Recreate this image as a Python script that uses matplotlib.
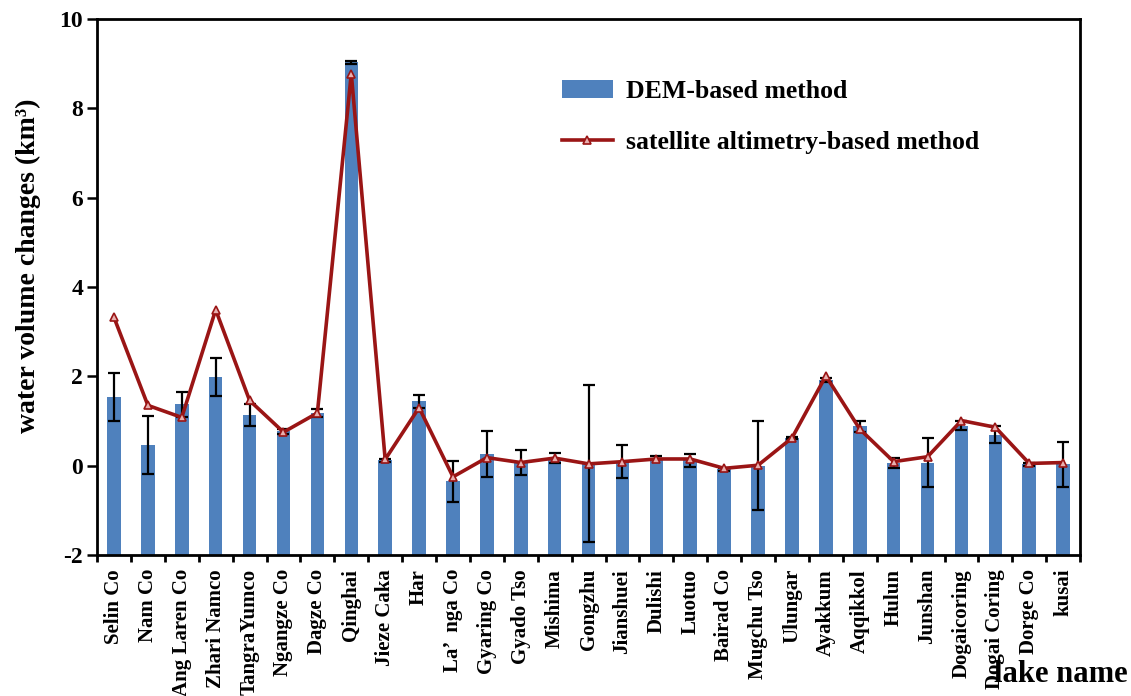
import numpy as np
import matplotlib
matplotlib.use('Agg')
import matplotlib.pyplot as plt

# ====== data ======
lakes = ['Selin Co', 'Nam Co', 'Ang Laren Co', 'Zhari Namco', 'TangraYumco',
         'Ngangze Co', 'Dagze Co', 'Qinghai', 'Jieze Caka', 'Har',
         'La\u2019  nga Co', 'Gyaring Co', 'Gyado Tso', 'Mishima', 'Gongzhu',
         'Jianshuei', 'Dulishi', 'Luotuo', 'Bairad Co', 'Mugchu Tso',
         'Ulungar', 'Ayakkum', 'Aqqikkol', 'Hulun', 'Junshan',
         'Dogaicoring', 'Dogai Coring', 'Dorge Co', 'kusai']

dem = [1.53, 0.47, 1.37, 1.98, 1.14, 0.77, 1.18, 9.03, 0.12, 1.44,
       -0.35, 0.26, 0.07, 0.18, 0.05, 0.09, 0.18, 0.12, -0.08, 0.0,
       0.62, 1.92, 0.88, 0.06, 0.07, 0.89, 0.69, 0.03, 0.03]

dem_err = [0.54, 0.65, 0.29, 0.43, 0.25, 0.05, 0.10, 0.04, 0.03, 0.14,
           0.46, 0.52, 0.29, 0.11, 1.75, 0.37, 0.03, 0.15, 0.03, 1.0,
           0.03, 0.05, 0.13, 0.11, 0.55, 0.10, 0.19, 0.03, 0.50]

alt = [3.32, 1.35, 1.08, 3.49, 1.46, 0.75, 1.18, 8.78, 0.14, 1.30,
       -0.25, 0.18, 0.07, 0.17, 0.04, 0.09, 0.15, 0.15, -0.06, 0.01,
       0.62, 2.01, 0.82, 0.09, 0.20, 1.01, 0.86, 0.05, 0.07]

y_min, y_max = -2, 10
# =========================================

plt.rcParams['font.family'] = ['Liberation Serif', 'DejaVu Serif']
plt.rcParams['font.weight'] = 'bold'
plt.rcParams['axes.unicode_minus'] = False

fig = plt.figure(figsize=(11.31, 6.96), dpi=100)
ax = fig.add_axes([0.0858, 0.2026, 0.8692, 0.770])

x = np.arange(len(lakes))
heights = np.array(dem) - y_min
bars = ax.bar(x, heights, bottom=y_min, width=0.4, color='#4F81BD',
              label='DEM-based method', zorder=2)
ax.errorbar(x, dem, yerr=dem_err, fmt='none', ecolor='black',
            elinewidth=1.6, capsize=4.5, capthick=1.6, zorder=3)
line, = ax.plot(x, alt, color='#9A1515', lw=2.6, marker='^', markersize=6,
                markerfacecolor='#E8B0B0', markeredgecolor='#9A1515',
                markeredgewidth=1.2, label='satellite altimetry-based method',
                zorder=4)

ax.set_xlim(-0.5, len(lakes) - 0.5)
ax.set_ylim(y_min, y_max)
ax.set_yticks(np.arange(y_min, y_max + 1, 2))
ax.tick_params(axis='y', direction='out', length=7, width=1.8, labelsize=17,
               pad=3)

# category labels centred, ticks on the boundaries
ax.set_xticks(x)
ax.set_xticklabels(lakes, rotation=90, fontsize=15, fontweight='bold')
ax.tick_params(axis='x', which='major', length=0, pad=10)
ax.set_xticks(np.arange(-0.5, len(lakes), 1), minor=True)
ax.tick_params(axis='x', which='minor', direction='out', length=5, width=2)

for s in ax.spines.values():
    s.set_linewidth(2)

ax.set_ylabel('water volume changes (km\u00b3)', fontsize=20,
              fontweight='bold')
ax.yaxis.set_label_coords(-0.057, 0.54)
fig.text(0.997, 0.010, 'lake name', ha='right', va='bottom', fontsize=22,
         fontweight='bold')

ax.legend([bars, line], ['DEM-based method', 'satellite altimetry-based method'],
          loc='upper left', bbox_to_anchor=(0.449, 0.93), frameon=False,
          handlelength=2.0, handletextpad=0.5, labelspacing=1.1,
          prop={'weight': 'bold', 'size': 18.5})

fig.savefig('out.png', dpi=100)
